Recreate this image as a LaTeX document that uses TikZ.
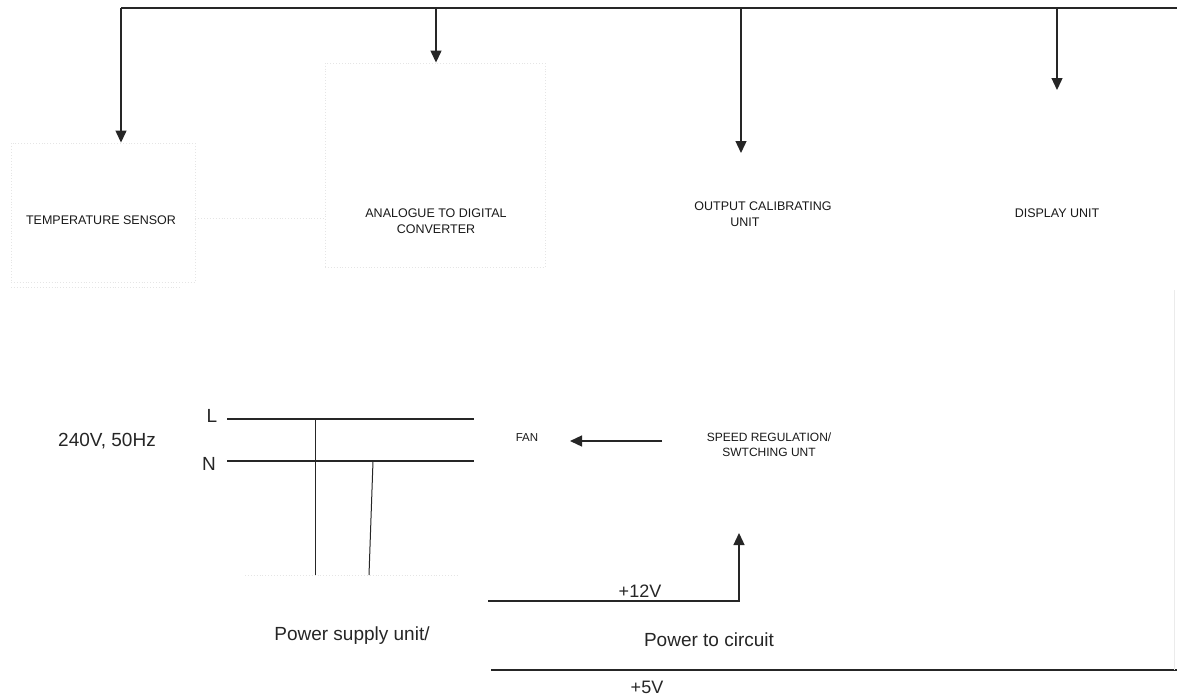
\documentclass[tikz,border=0pt]{standalone}
\usepackage{fontspec}
\setmainfont{Liberation Sans}
\usetikzlibrary{arrows.meta}
\begin{document}
\begin{tikzpicture}[x=1pt,y=-1pt,
  wire/.style={line width=1.3pt, draw=black!85},
  arr/.style={wire,-{Triangle[length=12pt,width=11pt]}},
  faint/.style={draw=black!10, dotted, line width=0.9pt},
  faintbox/.style={faint, inner sep=0pt, minimum width=#1},
  small/.style={font=\fontsize{12.5}{16}\selectfont, align=center, inner sep=0pt, text=black!90},
  big/.style={font=\fontsize{19}{22}\selectfont, inner sep=0pt, text=black!85}]
\useasboundingbox (0,0) rectangle (1177,696);
\fill[white] (0,0) rectangle (1177,696);

% faint boxes
\node[faintbox=184pt, minimum height=139pt] (tsbox) at (103,212.5) {};
\node[faintbox=220pt, minimum height=204pt] (adcbox) at (435,165) {};
\draw[faint] (tsbox.east |- 0,218) -- (adcbox.west |- 0,218);
\draw[faint] (11,287) -- (180,287);

% labels of blocks
\node[small] (ts) at (101,220) {TEMPERATURE SENSOR};
\node[small] (adc) at (436,221) {ANALOGUE TO DIGITAL\\CONVERTER};
\node[small, align=left] (oc) at (763,214) {OUTPUT CALIBRATING\\\hspace*{36pt}UNIT};
\node[small] (disp) at (1057,213) {DISPLAY UNIT};

% top bus
\coordinate (bL) at (121,8);
\coordinate (bA) at (436,8);
\coordinate (bO) at (741,8);
\coordinate (bD) at (1057,8);
\coordinate (bR) at (1177,8);
\coordinate (ocTip) at (741,153);
\coordinate (dTip) at (1057,90);
\draw[wire] (bR) -- (bL);
\draw[arr] (bL) -- (bL |- tsbox.north);
\draw[arr] (bA) -- (bA |- adcbox.north);
\draw[arr] (bO) -- (ocTip);
\draw[arr] (bD) -- (dTip);

% mains
\node[big] (mains) at (107,441) {240V, 50Hz};
\node[big] (L) at (212,416) {L};
\node[big] (N) at (209,464) {N};
\coordinate (Ls) at (227,419);
\coordinate (Le) at (474,419);
\coordinate (Ns) at (227,461);
\coordinate (Ne) at (474,461);
\draw[wire] (Ls) -- (Le);
\draw[wire] (Ns) -- (Ne);
\coordinate (v1t) at (315,419);
\coordinate (v1b) at (315,575);
\coordinate (v2t) at (373,461);
\coordinate (v2b) at (369,575);
\draw[wire, line width=1pt] (v1t) -- (v1b);
\draw[wire, line width=1pt] (v2t) -- (v2b);
\draw[faint] (245,575) -- (459,575);
\node[big] (psu) at (352,636) {Power supply unit/};

% fan and speed regulation
\node[small, font=\fontsize{11.5}{14}\selectfont] (fan) at (527,438) {FAN};
\node[small, font=\fontsize{12}{15}\selectfont] (speed) at (769,445) {SPEED REGULATION/\\SWTCHING UNT};
\coordinate (fanS) at (662,441);
\coordinate (fanT) at (570,441);
\draw[arr] (fanS) -- (fanT);

% power lines
\coordinate (p12s) at (488,601);
\coordinate (p12c) at (739,601);
\coordinate (p12t) at (739,533);
\draw[arr] (p12s) -- (p12c) -- (p12t);
\node[big, font=\fontsize{18}{21}\selectfont] (v12) at (640,591) {+12V};
\node[big] (ptc) at (709,640) {Power to circuit};
\coordinate (p5s) at (491,670);
\coordinate (p5e) at (1177,670);
\draw[wire] (p5s) -- (p5e);
\node[big, font=\fontsize{18}{21}\selectfont] (v5) at (647,687) {+5V};
\draw[draw=black!8, line width=0.9pt] (1174,290) -- (1174,670);
\end{tikzpicture}
\end{document}
